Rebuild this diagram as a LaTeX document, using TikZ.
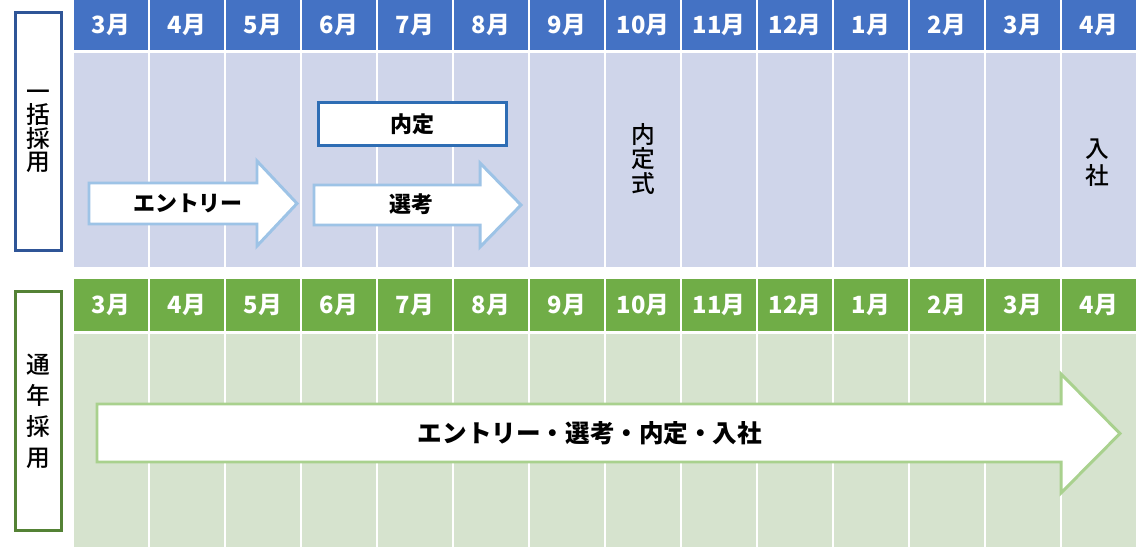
\documentclass[tikz,border=0pt]{standalone}
\usepackage{fontspec}
\setmainfont{Noto Sans CJK JP}
\newfontfamily\jpmed{Noto Sans CJK JP Medium}
\usetikzlibrary{positioning}
\definecolor{hdrblue}{HTML}{4472C4}
\definecolor{bodyblue}{HTML}{CFD5EA}
\definecolor{hdrgreen}{HTML}{70AD47}
\definecolor{bodygreen}{HTML}{D6E3CE}
\definecolor{framblue}{HTML}{2F5597}
\definecolor{framgreen}{HTML}{548235}
\definecolor{naiblue}{HTML}{2E6DB4}
\definecolor{arrblue}{HTML}{9DC3E6}
\definecolor{arrgreen}{HTML}{A9D18E}
\begin{document}
\begin{tikzpicture}[x=0.02cm,y=-0.02cm,
    every node/.style={inner sep=0pt},
    month/.style={text=white,font=\fontsize{13.5}{14}\selectfont\bfseries},
    label/.style={font=\fontsize{12.5}{14}\selectfont\bfseries},
    sidebox/.style={draw,line width=1.7pt,fill=white,minimum width=0.92cm,minimum height=4.78cm,align=center},
    arrow/.style={line width=1.7pt,fill=white}]
    \useasboundingbox (0,0) rectangle (1138,550);
    \fill [white] (0,0) rectangle (1138,550);
    % months of both tables
    \foreach \m [count=\i from 0] in {3,4,5,6,7,8,9,10,11,12,1,2,3,4} {
        \fill [hdrblue] (74+76*\i,0) rectangle (148+76*\i,50);
        \fill [bodyblue] (74+76*\i,53) rectangle (148+76*\i,267);
        \node [month] (ma\i) at (111+76*\i,25) {\m 月};
        \fill [hdrgreen] (74+76*\i,279) rectangle (148+76*\i,331);
        \fill [bodygreen] (74+76*\i,334) rectangle (148+76*\i,547);
        \node [month] (mb\i) at (111+76*\i,305) {\m 月};
    }
    % ikkatsu
    \node [sidebox,draw=framblue,font=\fontsize{13.5}{13.4}\selectfont\jpmed] (ikkatsu) at (38.5,131.5) {一\\括\\採\\用};
    \draw [arrow,draw=arrblue] (89,183) -- (257,183) -- (257,161) -- (297,203.5) -- (257,246) -- (257,224) -- (89,224) -- cycle;
    \node [label] (entry) at (188,203.5) {エントリー};
    \draw [arrow,draw=arrblue] (314,185) -- (480,185) -- (480,163) -- (521,205) -- (480,247) -- (480,225) -- (314,225) -- cycle;
    \node [label] (senko) at (411,204) {選考};
    \draw [line width=1.7pt,draw=naiblue,fill=white] (318.5,102.5) rectangle (506.5,145.5);
    \node [label] (naitei) at (412,124.5) {内定};
    \node [align=center,font=\fontsize{13.5}{14.2}\selectfont\jpmed] (naiteishiki) at (643,159) {内\\定\\式};
    \node [align=center,font=\fontsize{13.5}{15.3}\selectfont\jpmed] (nyusha) at (1097,162.5) {入\\社};
    % tsunen
    \node [sidebox,draw=framgreen,font=\fontsize{13.5}{17.6}\selectfont\jpmed] (tsunen) at (38.5,411) {通\\年\\採\\用};
    \draw [arrow,draw=arrgreen] (97,404) -- (1061,404) -- (1061,374) -- (1120,433.5) -- (1061,493) -- (1061,462) -- (97,462) -- cycle;
    \node [label,font=\fontsize{14}{15}\selectfont\bfseries] (zenbu) at (590,433) {エントリー・選考・内定・入社};
\end{tikzpicture}
\end{document}
